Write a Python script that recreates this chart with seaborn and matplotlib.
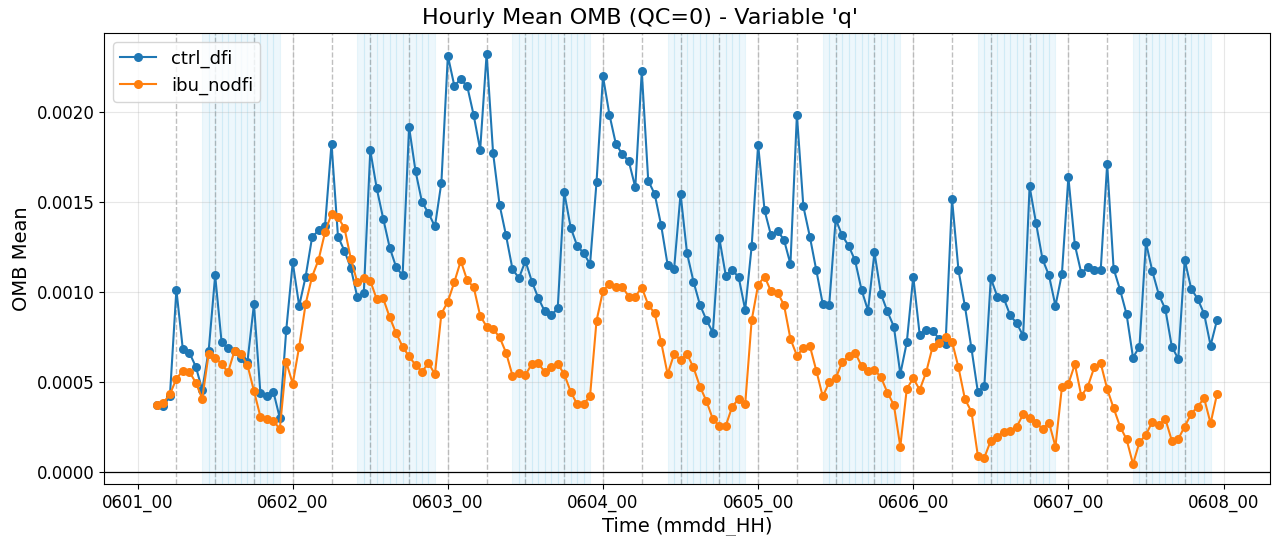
import numpy as np
import pandas as pd
import matplotlib
matplotlib.use("Agg")
import matplotlib.pyplot as plt
import seaborn as sns

# Hourly mean observation-minus-background for humidity, 0601_03 .. 0607_23
start_hour = 3
ctrl_dfi = [
    # 0601 03-23
    0.000372, 0.000365, 0.000422, 0.001011, 0.000681, 0.000663, 0.000585, 0.000456, 0.000674, 0.001091, 0.000719,
    0.000687, 0.000669, 0.000631, 0.000613, 0.000931, 0.000437, 0.000419, 0.000446, 0.000300, 0.000789,
    # 0602
    0.001163, 0.000922, 0.001085, 0.001304, 0.001341, 0.001367, 0.001822, 0.001307, 0.001228, 0.001131, 0.000969, 0.000996,
    0.001785, 0.001574, 0.001406, 0.001246, 0.001137, 0.001091, 0.001915, 0.001670, 0.001498, 0.001437, 0.001363, 0.001607,
    # 0603
    0.002311, 0.002144, 0.002181, 0.002141, 0.001980, 0.001789, 0.002322, 0.001770, 0.001483, 0.001313, 0.001126, 0.001076,
    0.001172, 0.001057, 0.000965, 0.000891, 0.000869, 0.000909, 0.001554, 0.001357, 0.001256, 0.001215, 0.001154, 0.001609,
    # 0604
    0.002196, 0.001983, 0.001820, 0.001765, 0.001724, 0.001580, 0.002224, 0.001617, 0.001543, 0.001369, 0.001150, 0.001126,
    0.001544, 0.001215, 0.001057, 0.000928, 0.000844, 0.000774, 0.001298, 0.001089, 0.001122, 0.001080, 0.000900, 0.001252,
    # 0605
    0.001817, 0.001452, 0.001313, 0.001339, 0.001289, 0.001154, 0.001983, 0.001474, 0.001307, 0.001119, 0.000933, 0.000928,
    0.001404, 0.001313, 0.001256, 0.001174, 0.001011, 0.000896, 0.001219, 0.000989, 0.000891, 0.000807, 0.000544, 0.000719,
    # 0606
    0.001085, 0.000761, 0.000789, 0.000783, 0.000740, 0.000711, 0.001515, 0.001119, 0.000919, 0.000687, 0.000443, 0.000478,
    0.001076, 0.000974, 0.000965, 0.000869, 0.000826, 0.000756, 0.001585, 0.001381, 0.001181, 0.001091, 0.000922, 0.001100,
    # 0607
    0.001637, 0.001261, 0.001104, 0.001137, 0.001119, 0.001119, 0.001709, 0.001128, 0.001011, 0.000876, 0.000635, 0.000696,
    0.001274, 0.001113, 0.000983, 0.000904, 0.000696, 0.000628, 0.001178, 0.001017, 0.000961, 0.000878, 0.000702, 0.000844,
]
ibu_nodfi = [
    # 0601 03-23
    0.000372, 0.000385, 0.000431, 0.000517, 0.000563, 0.000557, 0.000496, 0.000407, 0.000656, 0.000635, 0.000598,
    0.000554, 0.000674, 0.000656, 0.000593, 0.000450, 0.000307, 0.000294, 0.000285, 0.000238, 0.000610,
    # 0602
    0.000490, 0.000696, 0.000933, 0.001085, 0.001178, 0.001331, 0.001433, 0.001415, 0.001354, 0.001183, 0.001052, 0.001076,
    0.001061, 0.000959, 0.000963, 0.000859, 0.000770, 0.000696, 0.000641, 0.000594, 0.000557, 0.000604, 0.000543, 0.000878,
    # 0603
    0.000946, 0.001054, 0.001172, 0.001063, 0.001026, 0.000867, 0.000807, 0.000794, 0.000748, 0.000663, 0.000535, 0.000548,
    0.000539, 0.000600, 0.000604, 0.000554, 0.000580, 0.000600, 0.000543, 0.000446, 0.000376, 0.000376, 0.000422, 0.000839,
    # 0604
    0.001006, 0.001044, 0.001026, 0.001026, 0.000974, 0.000974, 0.001024, 0.000928, 0.000881, 0.000720, 0.000543, 0.000654,
    0.000622, 0.000654, 0.000580, 0.000474, 0.000394, 0.000293, 0.000256, 0.000257, 0.000363, 0.000406, 0.000376, 0.000841,
    # 0605
    0.001039, 0.001085, 0.001002, 0.000996, 0.000928, 0.000739, 0.000646, 0.000687, 0.000700, 0.000563, 0.000419, 0.000498,
    0.000520, 0.000609, 0.000641, 0.000663, 0.000589, 0.000563, 0.000567, 0.000526, 0.000441, 0.000372, 0.000141, 0.000461,
    # 0606
    0.000520, 0.000456, 0.000554, 0.000696, 0.000718, 0.000750, 0.000724, 0.000580, 0.000404, 0.000335, 0.000089, 0.000080,
    0.000174, 0.000196, 0.000224, 0.000229, 0.000250, 0.000320, 0.000302, 0.000274, 0.000239, 0.000274, 0.000141, 0.000470,
    # 0607
    0.000489, 0.000598, 0.000422, 0.000474, 0.000580, 0.000604, 0.000461, 0.000354, 0.000252, 0.000181, 0.000044, 0.000165,
    0.000206, 0.000280, 0.000261, 0.000294, 0.000174, 0.000183, 0.000252, 0.000322, 0.000363, 0.000409, 0.000270, 0.000433,
]
day_labels = ["0601_00", "0602_00", "0603_00", "0604_00", "0605_00", "0606_00", "0607_00", "0608_00"]
n_days = 7
shade_hours = list(range(10, 22))        # hours of each day that get shaded
cycle_step = 6                           # dashed line every analysis cycle

df = pd.concat([
    pd.DataFrame({"hour": np.arange(start_hour, start_hour + len(ctrl_dfi)), "omb": ctrl_dfi, "exp": "ctrl_dfi"}),
    pd.DataFrame({"hour": np.arange(start_hour, start_hour + len(ibu_nodfi)), "omb": ibu_nodfi, "exp": "ibu_nodfi"}),
], ignore_index=True)

fig = plt.figure(figsize=(12.79, 5.36), dpi=100)
ax = fig.add_axes([0.0813, 0.097, 0.9117, 0.8414])

# shaded hours, one span per hour (edges overlap into faint stripes)
for d in range(n_days):
    for h in shade_hours:
        ax.axvspan(d * 24 + h, d * 24 + h + 1, facecolor="skyblue", edgecolor="skyblue",
                   alpha=0.15, lw=0.8, zorder=0)

# cycle markers
for t in range(cycle_step, n_days * 24, cycle_step):
    ax.axvline(t, color="gray", ls="--", lw=1.0, alpha=0.5, zorder=0.5)

palette = {"ctrl_dfi": "#1f77b4", "ibu_nodfi": "#ff7f0e"}
for name in ["ctrl_dfi", "ibu_nodfi"]:
    sub = df[df["exp"] == name]
    sns.lineplot(data=sub, x="hour", y="omb", ax=ax, color=palette[name], label=name,
                 marker="o", markersize=6.5, markeredgecolor=palette[name], markeredgewidth=0,
                 linewidth=1.5, zorder=3)

ax.axhline(0, color="black", lw=0.9, zorder=2)

ax.set_xticks(np.arange(0, (n_days + 1) * 24, 24))
ax.set_xticklabels(day_labels)
ax.set_xlim(-5.2, 175.2)
ax.set_ylim(-0.000067, 0.002437)
ax.yaxis.set_major_formatter(matplotlib.ticker.FormatStrFormatter("%.4f"))
ax.grid(True, color="#b0b0b0", alpha=0.3, lw=0.8)
ax.tick_params(labelsize=12)
ax.set_xlabel("Time (mmdd_HH)", fontsize=14)
ax.set_ylabel("OMB Mean", fontsize=14)
fig.suptitle("Hourly Mean OMB (QC=0) - Variable 'q'", fontsize=16, x=0.5, y=0.985)
ax.legend(loc="upper left", fontsize=13)

fig.savefig("out.png", dpi=100)
